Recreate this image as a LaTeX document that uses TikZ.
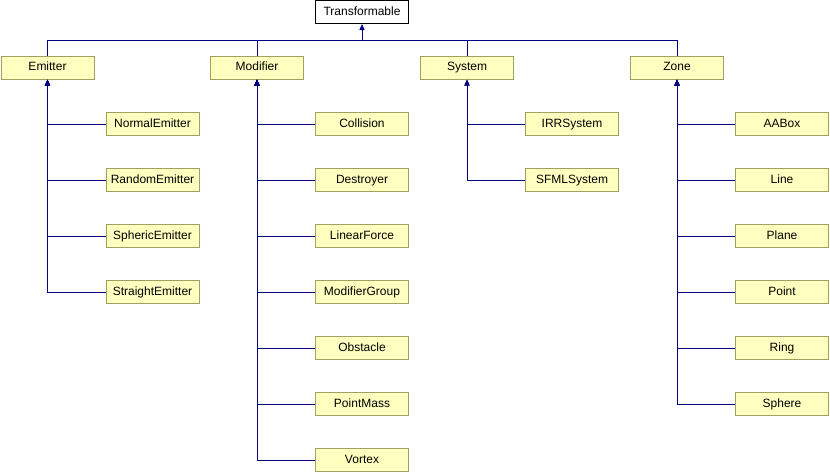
\documentclass[tikz,border=0pt]{standalone}
\usepackage{fontspec}
\setmainfont{Liberation Sans}
\usetikzlibrary{arrows.meta}
\definecolor{boxfill}{HTML}{FFFFC0}
\definecolor{boxline}{HTML}{A0A060}
\definecolor{conncol}{HTML}{000080}
\tikzset{
  cls/.style={draw=boxline, fill=boxfill, line width=0.75pt, minimum width=69.75pt, minimum height=17.25pt, inner sep=0pt, text height=6.6pt, text depth=1.9pt, font=\fontsize{9}{10}\selectfont},
  rootcls/.style={cls, draw=black, fill=white},
  conn/.style={draw=conncol, line width=0.75pt},
  inh/.style={conn, {Triangle[width=3.8pt,length=4.5pt]}-}
}
\begin{document}
\begin{tikzpicture}[x=0.75pt,y=-0.75pt]
\useasboundingbox (0,0) rectangle (830,472);
% root
\node[rootcls] (t) at (362,12) {Transformable};
% parents
\node[cls] (em) at (47.5,67.5) {Emitter};
\node[cls] (mo) at (257,67.5) {Modifier};
\node[cls] (sy) at (467,67.5) {System};
\node[cls] (zo) at (677,67.5) {Zone};
\coordinate (bus) at (362,40);
\draw[inh] (t.south) -- (bus);
\foreach \p in {em,mo,sy,zo} { \draw[conn] (\p.north) |- (bus); }
% Emitter children
\node[cls] (e1) at (152.5,124) {NormalEmitter};
\node[cls] (e2) at (152.5,180) {RandomEmitter};
\node[cls] (e3) at (152.5,236) {SphericEmitter};
\node[cls] (e4) at (152.5,292) {StraightEmitter};
\foreach \c in {e1,e2,e3,e4} { \draw[inh] (em.south) |- (\c.west); }
% Modifier children
\node[cls] (m1) at (362,124) {Collision};
\node[cls] (m2) at (362,180) {Destroyer};
\node[cls] (m3) at (362,236) {LinearForce};
\node[cls] (m4) at (362,292) {ModifierGroup};
\node[cls] (m5) at (362,348) {Obstacle};
\node[cls] (m6) at (362,404) {PointMass};
\node[cls] (m7) at (362,460) {Vortex};
\foreach \c in {m1,m2,m3,m4,m5,m6,m7} { \draw[inh] (mo.south) |- (\c.west); }
% System children
\node[cls] (s1) at (572,124) {IRRSystem};
\node[cls] (s2) at (572,180) {SFMLSystem};
\foreach \c in {s1,s2} { \draw[inh] (sy.south) |- (\c.west); }
% Zone children
\node[cls] (z1) at (782,124) {AABox};
\node[cls] (z2) at (782,180) {Line};
\node[cls] (z3) at (782,236) {Plane};
\node[cls] (z4) at (782,292) {Point};
\node[cls] (z5) at (782,348) {Ring};
\node[cls] (z6) at (782,404) {Sphere};
\foreach \c in {z1,z2,z3,z4,z5,z6} { \draw[inh] (zo.south) |- (\c.west); }
\end{tikzpicture}
\end{document}
